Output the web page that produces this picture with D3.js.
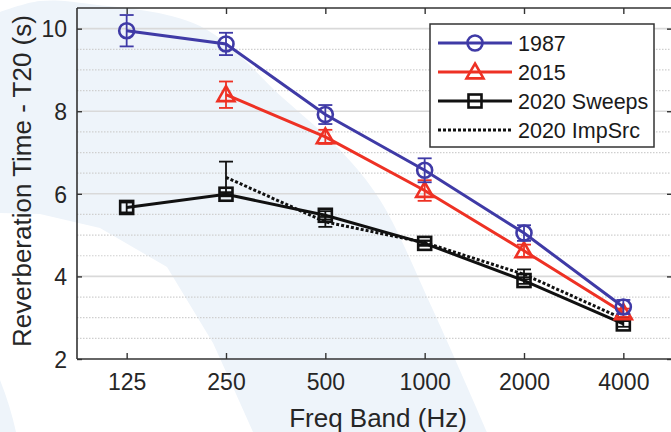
<!DOCTYPE html>
<html>
<head>
<meta charset="utf-8">
<script src="https://cdn.jsdelivr.net/npm/d3@7"></script>
<style>
  html, body { margin: 0; padding: 0; background: #fff; }
  svg { display: block; font-family: "Liberation Sans", Arial, sans-serif; }
</style>
</head>
<body>
<svg id="chart" width="671" height="432"></svg>
<script>
// Octave bands on the x axis
const bands = ["125", "250", "500", "1000", "2000", "4000"];
const yTicks = [2, 4, 6, 8, 10];

// Mean T20 per band and the half-width of each error bar (seconds); null = not measured
const t1987 = [9.95, 9.63, 7.92, 6.57, 5.05, 3.26];
const e1987 = [0.38, 0.27, 0.23, 0.29, 0.19, 0.17];
const t2015 = [null, 8.40, 7.38, 6.08, 4.62, 3.12];
const e2015 = [null, 0.32, 0.17, 0.25, 0.15, 0.10];
const tSweeps = [5.67, 5.99, 5.48, 4.80, 3.90, 2.85];
const eSweeps = [0.12, 0.05, 0.10, 0.06, 0.08, 0.07];
const tImpSrc = [null, 6.40, 5.32, 4.82, 4.05, 2.97];
const eImpSrc = [null, 0.38, 0.12, 0.05, 0.12, 0.05];

const seriesNames = ["1987", "2015", "2020 Sweeps", "2020 ImpSrc"];

const svg = d3.select("#chart");
const plotL = 77, plotR = 673, plotT = 8, plotB = 359;

const x = d3.scaleLinear().domain([-0.5, bands.length - 0.5]).range([plotL, plotR]);
const y = d3.scaleLinear().domain([2, 10.5]).range([plotB, plotT]);

// soft decorative backdrop band
const bandPath = d3.line().curve(d3.curveCatmullRom.alpha(0.5));
const outer = [[0, 12], [40, 1], [90, 4], [200, 26], [283, 98], [340, 150], [380, 200], [433, 310], [487, 432]];
const inner = [[253, 432], [232, 385], [213, 343], [167, 267], [100, 228], [40, 214], [0, 213]];
svg.append("path")
  .attr("d", bandPath(outer) + "L" + inner.map(p => p.join(",")).join("L") + "Z")
  .attr("fill", "#eef4fa");
svg.append("path")
  .attr("d", "M0,380 Q10,405 16,432 L0,432 Z")
  .attr("fill", "#eef4fa");

// grid: dotted every 0.5 s, solid at the labelled ticks
const minor = d3.range(2.5, 10.5, 0.5).filter(v => !yTicks.includes(v));
svg.append("g").selectAll("line").data(minor).join("line")
  .attr("x1", plotL).attr("x2", plotR)
  .attr("y1", d => y(d)).attr("y2", d => y(d))
  .attr("stroke", "#cfcfcf").attr("stroke-width", 1.2)
  .attr("stroke-dasharray", "1.5,1.5");
svg.append("g").selectAll("line").data(yTicks.filter(v => v > 2)).join("line")
  .attr("x1", plotL).attr("x2", plotR)
  .attr("y1", d => y(d)).attr("y2", d => y(d))
  .attr("stroke", "#d9d9d9").attr("stroke-width", 1.6);

// axes (box with inward ticks)
const axisColor = "#333";
const axL = svg.append("g").attr("transform", `translate(${plotL},0)`)
  .call(d3.axisLeft(y).tickValues(yTicks).tickSize(-5).tickPadding(10).tickFormat(d3.format("d")));
const axR = svg.append("g").attr("transform", `translate(${plotR},0)`)
  .call(d3.axisRight(y).tickValues(yTicks).tickSize(-6).tickFormat(""));
const axB = svg.append("g").attr("transform", `translate(0,${plotB})`)
  .call(d3.axisBottom(x).tickValues(d3.range(bands.length)).tickSize(-6).tickPadding(14).tickFormat(i => bands[i]));
const axT = svg.append("g").attr("transform", `translate(0,${plotT})`)
  .call(d3.axisTop(x).tickValues(d3.range(bands.length)).tickSize(-6).tickFormat(""));
[axL, axR, axB, axT].forEach(g => {
  g.select(".domain").attr("stroke", axisColor).attr("stroke-width", 1.6);
  g.selectAll(".tick line").attr("stroke", axisColor).attr("stroke-width", 1.4);
  g.selectAll("text").attr("fill", "#262626").attr("font-size", 23)
    .attr("font-family", "Liberation Sans, Arial, sans-serif");
});
axL.select(".domain").attr("d", `M0,${plotB}V${plotT}`);
axR.select(".domain").attr("d", `M0,${plotB}V${plotT}`);
axB.select(".domain").attr("d", `M${plotL},0H${plotR}`);
axT.select(".domain").attr("d", `M${plotL},0H${plotR}`);
axL.selectAll("text").attr("dy", "0.36em");
axB.selectAll("text").attr("dy", "0.72em");

// axis titles
svg.append("text")
  .attr("x", (plotL + plotR) / 2 + 3).attr("y", 427)
  .attr("text-anchor", "middle").attr("font-size", 26).attr("fill", "#262626")
  .text("Freq Band (Hz)");
svg.append("text")
  .attr("transform", "translate(31,181) rotate(-90)")
  .attr("text-anchor", "middle").attr("font-size", 26).attr("fill", "#262626")
  .text("Reverberation Time - T20 (s)");

// series
const series = [
  { name: seriesNames[0], v: t1987, e: e1987, color: "#3f3aa6", marker: "circle", dash: null },
  { name: seriesNames[1], v: t2015, e: e2015, color: "#ee3124", marker: "triangle", dash: null },
  { name: seriesNames[2], v: tSweeps, e: eSweeps, color: "#111111", marker: "square", dash: null },
  { name: seriesNames[3], v: tImpSrc, e: eImpSrc, color: "#111111", marker: null, dash: "3,2" }
];

function drawMarker(g, type, cx, cy, color) {
  if (type === "circle") {
    g.append("circle").attr("cx", cx).attr("cy", cy).attr("r", 7.5)
      .attr("fill", "none").attr("stroke", color).attr("stroke-width", 2.6);
  } else if (type === "triangle") {
    const s = 8.5;
    g.append("path")
      .attr("d", `M${cx},${cy - s}L${cx + s},${cy + s * 0.75}L${cx - s},${cy + s * 0.75}Z`)
      .attr("fill", "none").attr("stroke", color).attr("stroke-width", 2.6);
  } else if (type === "square") {
    g.append("rect").attr("x", cx - 6.5).attr("y", cy - 6.5).attr("width", 13).attr("height", 13)
      .attr("fill", "none").attr("stroke", color).attr("stroke-width", 2.6);
  }
}

const plot = svg.append("g");
// draw the black series first so the coloured ones sit on top
[series[3], series[2], series[1], series[0]].forEach(s => {
  const g = plot.append("g");
  const pts = s.v.map((v, i) => ({ i, v, e: s.e[i] })).filter(d => d.v != null);
  g.append("path")
    .datum(pts)
    .attr("d", d3.line().x(d => x(d.i)).y(d => y(d.v)))
    .attr("fill", "none").attr("stroke", s.color).attr("stroke-width", 3)
    .attr("stroke-dasharray", s.dash);
  pts.forEach(d => {
    const cx = x(d.i), y0 = y(d.v - d.e), y1 = y(d.v + d.e);
    g.append("line").attr("x1", cx).attr("x2", cx).attr("y1", y0).attr("y2", y1)
      .attr("stroke", s.color).attr("stroke-width", 1.8);
    [y0, y1].forEach(yy => g.append("line")
      .attr("x1", cx - 7).attr("x2", cx + 7).attr("y1", yy).attr("y2", yy)
      .attr("stroke", s.color).attr("stroke-width", 1.8));
    if (s.marker) drawMarker(g, s.marker, cx, y(d.v), s.color);
  });
});

// legend
const lg = svg.append("g");
lg.append("rect").attr("x", 430).attr("y", 24).attr("width", 224).attr("height", 123)
  .attr("fill", "#fff").attr("stroke", "#333").attr("stroke-width", 1.5);
series.forEach((s, k) => {
  const ry = 43 + k * 29;
  lg.append("line").attr("x1", 438).attr("x2", 512).attr("y1", ry).attr("y2", ry)
    .attr("stroke", s.color).attr("stroke-width", 3).attr("stroke-dasharray", s.dash);
  if (s.marker) drawMarker(lg, s.marker, 475, ry, s.color);
  lg.append("text").attr("x", 518).attr("y", ry + 8)
    .attr("font-size", 21.5).attr("fill", "#1a1a1a").text(s.name);
});
</script>
</body>
</html>
